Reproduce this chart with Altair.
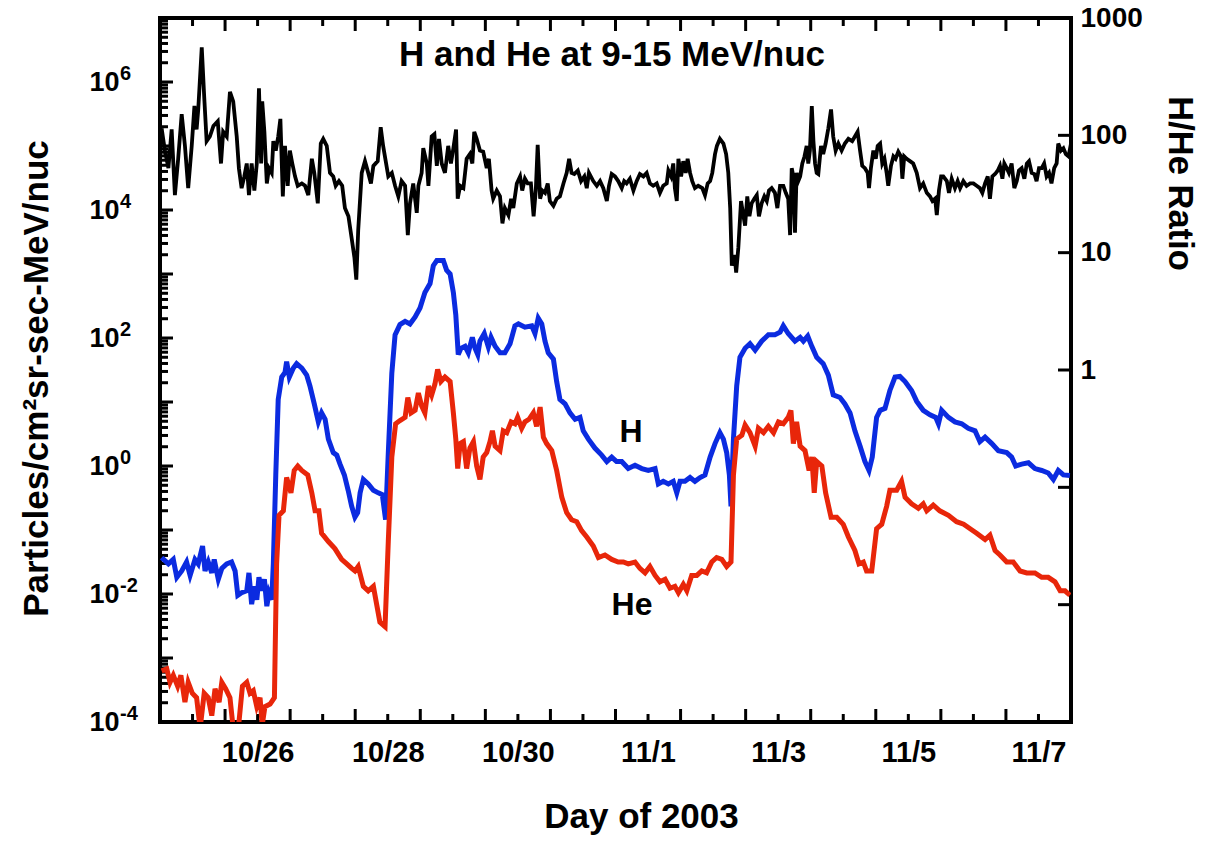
import altair as alt
import pandas as pd

# ---------------- data ----------------
# time in hours since 2003-10-25 00:00 (day of year 298), values as log10
H_HOURS = [0.6, 3.1, 4.9, 6.2, 8.0, 9.8, 11.1, 12.9, 14.1, 15.7,
           16.6, 17.8, 19.1, 20.0, 21.5, 22.8, 24.6, 26.4, 27.7, 28.7,
           30.1, 32.0, 32.8, 33.8, 34.8, 35.7, 36.5, 37.5, 38.5, 39.4,
           40.2, 41.2, 41.8, 42.7, 43.6, 44.9, 46.1, 46.7, 47.7, 49.2,
           50.4, 52.3, 54.1, 55.3, 56.9, 58.4, 59.6, 60.9, 62.1, 63.9,
           65.2, 66.4, 68.0, 69.4, 70.7, 71.9, 72.9, 73.8, 75.0, 76.8,
           78.7, 80.5, 82.0, 83.2, 84.2, 85.5, 86.7, 88.5, 90.4, 92.2,
           94.1, 95.9, 97.7, 99.6, 100.8, 102.1, 104.5, 105.7, 107.0, 108.2,
           109.1, 110.0, 111.0, 112.5, 113.7, 115.2, 116.2, 117.2, 118.0, 119.6,
           121.1, 122.1, 123.6, 125.4, 127.2, 129.1, 130.9, 132.2, 134.6, 137.1,
           138.3, 139.5, 140.8, 142.0, 143.2, 145.1, 146.3, 147.5, 149.4, 151.2,
           153.1, 154.9, 156.1, 158.0, 160.4, 162.9, 164.8, 166.6, 168.4, 170.3,
           172.7, 175.2, 177.7, 180.1, 182.6, 183.8, 185.6, 187.5, 189.3, 190.6,
           191.8, 193.6, 195.5, 197.3, 199.2, 201.0, 202.9, 204.7, 206.5, 207.8,
           209.0, 210.0, 210.6, 211.5, 212.7, 213.9, 215.8, 217.6, 219.5, 221.9,
           224.4, 226.8, 228.7, 229.9, 231.7, 234.2, 236.1, 237.3, 238.9, 240.4,
           242.2, 244.6, 246.5, 248.3, 250.8, 252.6, 254.5, 256.3, 258.2, 260.0,
           261.5, 262.7, 264.3, 265.6, 267.4, 269.2, 271.1, 272.9, 274.8, 277.2,
           279.1, 281.5, 284.0, 286.1, 287.1, 288.3, 290.8, 293.2, 295.7, 298.1,
           300.6, 302.4, 304.3, 306.8, 309.2, 312.3, 314.1, 315.6, 317.8, 320.3,
           322.7, 325.2, 327.6, 329.5, 331.3, 333.2, 335.6]
H_LOG10 = [-1.43, -1.53, -1.46, -1.74, -1.64, -1.50, -1.71, -1.46, -1.53, -1.25,
           -1.64, -1.50, -1.67, -1.46, -1.77, -1.60, -1.53, -1.50, -1.64, -2.02,
           -1.98, -1.95, -1.67, -2.16, -1.88, -2.09, -1.74, -1.95, -1.77, -2.19,
           -1.98, -2.09, -1.53, -0.14, 1.04, 1.39, 1.46, 1.63, 1.39, 1.53,
           1.60, 1.53, 1.42, 1.25, 0.97, 0.69, 0.83, 0.73, 0.42, 0.21,
           0.17, 0.03, -0.14, -0.38, -0.63, -0.80, -0.73, -0.42, -0.21, -0.28,
           -0.38, -0.42, -0.45, -0.84, 0.20, 1.45, 2.05, 2.21, 2.26, 2.22,
           2.33, 2.47, 2.71, 2.85, 3.13, 3.21, 3.21, 3.06, 3.00, 2.71,
           2.36, 1.74, 1.84, 1.87, 1.77, 2.01, 1.84, 1.74, 1.95, 2.07,
           1.86, 2.01, 1.87, 1.77, 1.77, 1.91, 2.19, 2.22, 2.17, 2.19,
           2.07, 2.31, 2.22, 1.95, 1.77, 1.67, 1.32, 1.04, 0.97, 0.83,
           0.73, 0.76, 0.55, 0.42, 0.28, 0.17, 0.07, 0.14, 0.07, 0.07,
           -0.04, 0.01, -0.04, -0.07, -0.04, -0.28, -0.24, -0.28, -0.24, -0.42,
           -0.24, -0.24, -0.18, -0.24, -0.18, -0.14, 0.14, 0.35, 0.52, 0.42,
           0.21, -0.14, -0.63, 0.42, 1.25, 1.70, 1.84, 1.91, 1.81, 1.95,
           2.05, 2.05, 2.09, 2.19, 2.07, 1.95, 2.01, 1.95, 2.03, 1.87,
           1.70, 1.60, 1.42, 1.11, 1.07, 0.97, 0.83, 0.55, 0.31, 0.07,
           -0.07, 0.14, 0.76, 0.87, 0.90, 1.18, 1.39, 1.40, 1.32, 1.18,
           1.01, 0.87, 0.80, 0.76, 0.66, 0.87, 0.76, 0.69, 0.66, 0.59,
           0.55, 0.38, 0.45, 0.35, 0.24, 0.21, 0.14, 0.00, 0.03, 0.05,
           -0.04, -0.07, -0.11, -0.21, -0.07, -0.14, -0.15]

HE_HOURS = [0.6, 2.5, 3.7, 4.9, 6.5, 7.7, 9.2, 10.4, 11.9, 13.5,
            14.8, 16.3, 17.8, 19.1, 20.3, 21.8, 22.8, 24.2, 25.8, 27.0,
            28.9, 30.4, 32.0, 33.2, 34.4, 35.7, 36.9, 37.7, 38.7, 40.6,
            42.2, 43.0, 43.9, 45.5, 46.7, 48.3, 49.5, 50.8, 52.3, 54.5,
            56.0, 57.2, 58.6, 59.6, 62.1, 64.5, 67.0, 68.9, 70.7, 71.9,
            73.1, 75.0, 76.8, 78.7, 79.9, 81.1, 83.0, 84.2, 85.5, 86.9,
            88.5, 90.4, 91.4, 92.6, 94.1, 95.3, 96.5, 97.7, 99.0, 100.2,
            101.4, 102.4, 103.6, 105.1, 107.0, 108.2, 109.1, 109.8, 110.7, 111.9,
            113.1, 114.3, 115.6, 116.8, 118.0, 119.2, 120.5, 121.7, 122.6, 123.6,
            125.4, 126.6, 127.9, 129.5, 130.9, 131.9, 133.4, 134.6, 136.1, 137.7,
            138.9, 140.2, 141.4, 142.6, 144.5, 146.3, 148.2, 150.0, 151.8, 153.7,
            155.5, 157.4, 159.8, 161.7, 164.1, 166.6, 169.0, 170.9, 172.7, 175.2,
            177.0, 178.9, 180.7, 182.6, 184.4, 186.3, 188.1, 189.9, 191.2, 193.0,
            194.3, 196.1, 198.0, 199.8, 201.6, 203.5, 205.3, 207.2, 209.0, 210.6,
            211.5, 212.7, 214.6, 215.8, 217.6, 219.5, 220.7, 222.6, 224.4, 226.3,
            228.1, 229.9, 231.7, 232.7, 233.6, 234.8, 236.1, 237.9, 239.4, 240.4,
            241.3, 242.2, 244.1, 245.5, 247.5, 249.6, 252.0, 253.9, 256.3, 257.8,
            259.4, 260.6, 262.5, 264.3, 266.2, 268.0, 269.2, 271.7, 273.5, 274.8,
            277.2, 279.7, 281.5, 282.8, 285.2, 287.6, 290.8, 293.8, 296.4, 298.8,
            301.2, 304.3, 306.1, 308.0, 309.8, 312.3, 314.7, 317.2, 319.7, 322.7,
            325.2, 327.6, 330.1, 332.0, 333.8, 335.6]
HE_LOG10 = [-3.20, -3.17, -3.38, -3.27, -3.44, -3.27, -3.69, -3.38, -3.55, -3.62,
            -4.10, -3.55, -3.62, -3.90, -3.48, -3.69, -3.38, -3.48, -3.62, -4.10,
            -4.10, -3.44, -3.38, -3.55, -3.51, -3.76, -3.62, -4.05, -3.76, -3.72,
            -3.62, -1.53, -0.77, -0.70, -0.18, -0.42, -0.07, 0.00, -0.07, -0.14,
            -0.42, -0.70, -0.70, -1.05, -1.18, -1.29, -1.46, -1.53, -1.60, -1.64,
            -1.57, -1.88, -1.95, -1.88, -2.16, -2.44, -2.51, -1.18, 0.14, 0.66,
            0.71, 0.76, 1.07, 0.83, 0.87, 1.14, 0.94, 0.83, 1.25, 1.11,
            1.28, 1.51, 1.32, 1.39, 1.32, 0.83, 0.42, -0.04, 0.35, 0.38,
            -0.04, 0.28, 0.38, 0.00, -0.21, 0.14, 0.21, 0.38, 0.55, 0.31,
            0.24, 0.55, 0.52, 0.69, 0.66, 0.76, 0.59, 0.69, 0.73, 0.83,
            0.62, 0.92, 0.45, 0.35, 0.24, -0.07, -0.49, -0.73, -0.84, -0.87,
            -1.01, -1.11, -1.25, -1.43, -1.39, -1.46, -1.50, -1.50, -1.53, -1.50,
            -1.60, -1.67, -1.57, -1.71, -1.81, -1.77, -1.91, -1.88, -1.98, -1.85,
            -1.95, -1.71, -1.71, -1.64, -1.67, -1.50, -1.43, -1.46, -1.57, -1.50,
            -0.14, 0.42, 0.48, 0.64, 0.52, 0.31, 0.59, 0.52, 0.62, 0.52,
            0.69, 0.66, 0.76, 0.87, 0.35, 0.69, 0.31, 0.24, -0.07, 0.14,
            -0.42, 0.07, 0.00, -0.42, -0.80, -0.80, -0.91, -1.11, -1.32, -1.53,
            -1.50, -1.64, -1.64, -0.98, -0.91, -0.63, -0.38, -0.38, -0.24, -0.49,
            -0.59, -0.66, -0.59, -0.70, -0.61, -0.70, -0.77, -0.87, -0.91, -0.98,
            -1.05, -1.15, -1.08, -1.32, -1.39, -1.50, -1.50, -1.64, -1.67, -1.67,
            -1.74, -1.74, -1.81, -1.95, -1.95, -2.02]

R_HOURS = [0.6, 1.8, 3.1, 4.3, 5.5, 6.7, 8.0, 9.2, 10.4, 11.7,
           12.7, 13.5, 14.1, 15.4, 16.3, 17.2, 18.4, 19.7, 21.3, 22.5,
           23.3, 24.6, 25.8, 27.0, 28.3, 29.1, 30.1, 31.1, 32.0, 32.8,
           33.8, 34.8, 35.7, 36.5, 37.3, 37.7, 38.5, 39.4, 40.2, 41.2,
           41.8, 42.7, 43.6, 44.4, 45.3, 46.1, 47.1, 47.9, 48.8, 49.8,
           50.8, 52.3, 53.5, 54.7, 56.0, 56.9, 58.2, 59.3, 60.2, 61.5,
           62.7, 63.9, 64.8, 66.0, 67.2, 68.2, 69.5, 70.7, 71.7, 72.4,
           73.1, 74.4, 75.6, 76.8, 77.8, 78.7, 80.3, 81.4, 82.3, 84.2,
           85.5, 86.7, 87.9, 89.1, 90.4, 91.4, 92.2, 93.4, 94.7, 95.3,
           96.5, 97.1, 98.4, 99.0, 100.2, 101.2, 102.1, 102.9, 103.9, 105.1,
           106.3, 107.3, 108.2, 109.2, 109.8, 110.7, 111.9, 113.1, 114.3, 115.2,
           115.9, 116.8, 118.0, 119.2, 120.5, 121.3, 122.3, 122.9, 124.2, 125.4,
           126.3, 127.2, 128.5, 129.5, 130.3, 131.6, 132.8, 133.6, 134.6, 135.6,
           136.8, 137.8, 138.6, 139.3, 140.2, 141.0, 142.0, 143.0, 143.8, 145.1,
           146.3, 147.5, 148.8, 150.0, 150.9, 151.8, 152.8, 154.1, 155.3, 156.5,
           157.4, 158.2, 159.8, 161.1, 162.3, 163.5, 164.8, 165.6, 166.6, 167.8,
           169.0, 170.3, 171.2, 172.1, 173.3, 174.6, 175.8, 177.0, 178.3, 179.5,
           180.7, 181.9, 183.2, 184.4, 185.6, 186.9, 187.5, 188.5, 189.3, 189.9,
           190.6, 191.2, 192.2, 193.0, 193.9, 194.6, 195.5, 196.3, 197.3, 198.5,
           200.0, 201.0, 202.0, 202.9, 203.7, 204.7, 205.4, 206.5, 207.8, 208.8,
           209.6, 210.3, 210.9, 211.9, 212.5, 213.3, 214.3, 215.2, 215.8, 216.6,
           217.4, 218.2, 219.2, 220.1, 220.9, 221.9, 222.9, 223.8, 224.6, 225.6,
           226.8, 227.7, 228.7, 229.9, 230.8, 231.7, 232.4, 233.0, 233.6, 234.2,
           234.8, 235.4, 236.1, 236.9, 237.7, 238.5, 239.1, 239.7, 240.4, 241.0,
           241.6, 242.2, 242.8, 243.8, 244.6, 245.5, 246.5, 247.5, 248.3, 249.2,
           250.2, 251.4, 252.6, 253.9, 255.3, 256.3, 257.3, 258.2, 259.0, 260.0,
           261.0, 261.5, 262.2, 263.1, 264.0, 264.7, 265.6, 266.4, 267.2, 268.0,
           268.6, 269.6, 270.5, 271.3, 272.3, 273.3, 273.8, 274.5, 275.4, 276.6,
           277.8, 279.1, 280.3, 281.5, 282.8, 284.0, 284.9, 285.9, 286.5, 287.3,
           288.1, 288.9, 290.2, 291.0, 292.0, 293.2, 294.2, 295.1, 296.3, 297.5,
           298.8, 300.0, 301.2, 302.4, 303.3, 304.3, 305.3, 306.1, 307.0, 308.0,
           309.0, 309.8, 310.7, 311.4, 312.3, 313.1, 314.1, 315.1, 316.0, 316.8,
           317.8, 318.8, 319.7, 320.5, 321.5, 322.5, 323.3, 324.2, 325.2, 326.1,
           327.0, 327.9, 328.8, 329.8, 330.7, 331.3, 332.3, 333.2, 334.1, 335.1,
           336.0]
R_LOG10 = [2.06, 1.87, 1.72, 2.05, 1.49, 1.80, 2.18, 1.91, 1.55, 1.91,
           2.25, 2.05, 2.22, 2.75, 2.33, 1.95, 1.99, 2.08, 2.12, 1.76,
           2.03, 1.99, 2.37, 2.29, 1.99, 1.72, 1.55, 1.65, 1.76, 1.49,
           1.76, 1.53, 1.76, 2.40, 1.76, 2.29, 2.03, 1.59, 1.72, 1.68,
           1.95, 1.87, 1.99, 2.14, 1.48, 1.91, 1.57, 1.87, 1.76, 1.65,
           1.57, 1.59, 1.57, 1.49, 1.80, 1.68, 1.42, 1.93, 1.97, 1.91,
           1.68, 1.65, 1.57, 1.61, 1.57, 1.38, 1.31, 1.12, 0.96, 0.77,
           1.19, 1.68, 1.78, 1.68, 1.59, 1.74, 1.78, 2.07, 1.91, 1.65,
           1.68, 1.57, 1.48, 1.61, 1.57, 1.15, 1.42, 1.59, 1.34, 1.57,
           1.68, 1.89, 1.76, 1.57, 1.99, 2.01, 1.74, 1.97, 1.76, 1.68,
           1.91, 1.76, 1.89, 2.05, 1.46, 1.57, 1.55, 1.80, 1.84, 1.76,
           2.03, 1.97, 1.87, 1.86, 1.72, 1.80, 1.53, 1.46, 1.53, 1.48,
           1.25, 1.38, 1.32, 1.46, 1.38, 1.59, 1.65, 1.53, 1.63, 1.59,
           1.59, 1.31, 1.53, 1.92, 1.46, 1.53, 1.51, 1.59, 1.44, 1.40,
           1.46, 1.48, 1.59, 1.68, 1.80, 1.68, 1.67, 1.70, 1.61, 1.65,
           1.55, 1.68, 1.61, 1.57, 1.61, 1.55, 1.44, 1.57, 1.67, 1.65,
           1.61, 1.55, 1.61, 1.59, 1.63, 1.53, 1.61, 1.67, 1.65, 1.68,
           1.59, 1.57, 1.59, 1.51, 1.57, 1.59, 1.70, 1.65, 1.76, 1.55,
           1.44, 1.80, 1.65, 1.78, 1.68, 1.80, 1.68, 1.61, 1.55, 1.57,
           1.55, 1.49, 1.59, 1.61, 1.68, 1.84, 1.91, 1.97, 1.93, 1.84,
           1.68, 1.38, 0.89, 0.98, 0.83, 1.04, 1.44, 1.31, 1.23, 1.48,
           1.31, 1.42, 1.46, 1.49, 1.31, 1.42, 1.48, 1.44, 1.53, 1.55,
           1.51, 1.38, 1.57, 1.57, 1.51, 1.46, 1.15, 1.72, 1.65, 1.17,
           1.68, 1.61, 1.65, 1.76, 1.82, 1.91, 1.76, 1.87, 2.25, 1.95,
           1.76, 1.68, 1.67, 1.91, 1.84, 1.93, 2.06, 2.22, 1.99, 1.87,
           1.93, 1.87, 1.93, 1.97, 1.95, 1.99, 2.03, 1.87, 1.74, 1.72,
           1.68, 1.55, 1.72, 1.87, 1.80, 1.91, 1.93, 1.76, 1.80, 1.68,
           1.57, 1.74, 1.82, 1.80, 1.86, 1.82, 1.63, 1.82, 1.80, 1.78,
           1.76, 1.68, 1.55, 1.59, 1.51, 1.48, 1.44, 1.46, 1.32, 1.53,
           1.65, 1.65, 1.61, 1.51, 1.63, 1.55, 1.61, 1.55, 1.61, 1.57,
           1.59, 1.59, 1.57, 1.55, 1.51, 1.59, 1.65, 1.46, 1.65, 1.67,
           1.70, 1.74, 1.63, 1.76, 1.72, 1.68, 1.76, 1.55, 1.61, 1.70,
           1.72, 1.63, 1.76, 1.78, 1.68, 1.67, 1.61, 1.72, 1.72, 1.76,
           1.65, 1.68, 1.59, 1.72, 1.76, 1.93, 1.87, 1.89, 1.84, 1.82,
           1.93]

DAY0 = 298                      # day of year of 10/25 00:00
X_DOMAIN = [298, 312]
X_LABEL_DAYS = [299.5, 301.5, 303.5, 305.5, 307.5, 309.5, 311.5]
DAY_TICKS = list(range(299, 312))
HALF_TICKS = [d + 0.5 for d in range(298, 312)]
LEFT_LABELS = [1e-4, 1e-2, 1e0, 1e2, 1e4, 1e6]
LEFT_EXPONENTS = ["-4", "-2", "0", "2", "4", "6"]
LEFT_MAJOR = [10.0 ** e for e in range(-3, 7)]
LEFT_MINOR = [m * 10.0 ** e for e in range(-4, 7) for m in range(2, 10)]
RIGHT_LABELS = [1, 10, 100, 1000]
RIGHT_MAJOR = [10.0 ** e for e in range(-2, 3)]

BLUE = "#0b2be0"
RED = "#e8260a"
FONT = "Liberation Sans"
W, H = 911, 704
MAJOR, MINOR = 13, 8

flux = pd.DataFrame({
    "doy": [DAY0 + h / 24 for h in H_HOURS] + [DAY0 + h / 24 for h in HE_HOURS],
    "flux": [10 ** v for v in H_LOG10] + [10 ** v for v in HE_LOG10],
    "species": ["H"] * len(H_HOURS) + ["He"] * len(HE_HOURS),
})
ratio = pd.DataFrame({
    "doy": [DAY0 + h / 24 for h in R_HOURS],
    "ratio": [10 ** v for v in R_LOG10],
})

xs = alt.Scale(domain=X_DOMAIN, nice=False, zero=False)
yl = alt.Scale(type="log", domain=[1e-4, 1e7], nice=False)
yr = alt.Scale(type="log", domain=[1e-3, 1e3], nice=False)

x_expr = ("floor(datum.value) <= 304 ? '10/' + (floor(datum.value) - 273) : "
          "'11/' + (floor(datum.value) - 304)")

lines = alt.Chart(flux).mark_line(strokeWidth=5, clip=True).encode(
    x=alt.X("doy:Q", scale=xs, axis=alt.Axis(
        orient="bottom", values=X_LABEL_DAYS, labelExpr=x_expr, ticks=False, tickSize=0,
        domain=False, grid=False, labelPadding=16, labelFontSize=29, labelFlush=False,
        labelOverlap=False,
        title="Day of 2003", titleX=481, titleY=105, titleBaseline="alphabetic",
        titleAlign="center")),
    y=alt.Y("flux:Q", scale=yl, axis=alt.Axis(
        orient="left", values=LEFT_LABELS, labelExpr="'10'", ticks=False, tickSize=0,
        domain=False, grid=False, labelPadding=41, labelFontSize=27, labelFlush=False,
        labelOverlap=False,
        title="Particles/cm\u00b2sr-sec-MeV/nuc", titleX=-113, titleY=360,
        titleBaseline="alphabetic", titleAlign="center")),
    color=alt.Color("species:N", scale=alt.Scale(domain=["H", "He"], range=[BLUE, RED]),
                    legend=None),
)

ratio_line = alt.Chart(ratio).mark_line(color="black", strokeWidth=3.8, clip=True).encode(
    x=alt.X("doy:Q", scale=xs, axis=None),
    y=alt.Y("ratio:Q", scale=yr, axis=alt.Axis(
        orient="right", values=RIGHT_LABELS, format="d", ticks=False, tickSize=0,
        domain=False, grid=False, labelPadding=9, labelAlign="left", labelFlush=False,
        labelOverlap=False, title="H/He Ratio", titleX=97, titleY=165,
        titleFontSize=34.5, titleBaseline="alphabetic", titleAlign="center")),
)

# exponents of the left-axis labels
exps = alt.Chart(pd.DataFrame({"v": LEFT_LABELS, "e": LEFT_EXPONENTS})).mark_text(
    font=FONT, fontSize=20, fontWeight="bold", color="black", align="left",
    baseline="middle", dy=-8).encode(
    y=alt.Y("v:Q", scale=yl, axis=None), x=alt.value(-40), text="e:N")


def x_ticks(values, size, top):
    y0 = 0 if top else H
    y1 = size if top else H - size
    return alt.Chart(pd.DataFrame({"t": values})).mark_rule(
        color="black", strokeWidth=3).encode(
        x=alt.X("t:Q", scale=xs, axis=None), y=alt.value(y0), y2=alt.value(y1))


def y_ticks(values, scale, size, right):
    x0 = W if right else 0
    x1 = W - size if right else size
    return alt.Chart(pd.DataFrame({"v": values})).mark_rule(
        color="black", strokeWidth=3).encode(
        y=alt.Y("v:Q", scale=scale, axis=None), x=alt.value(x0), x2=alt.value(x1))


tick_layers = [
    x_ticks(DAY_TICKS, MAJOR, False),
    x_ticks(HALF_TICKS, MINOR, False),
    x_ticks(DAY_TICKS, MAJOR, True),
    x_ticks(HALF_TICKS, MINOR, True),
    y_ticks(LEFT_MAJOR, yl, MAJOR, False),
    y_ticks(LEFT_MINOR, yl, MINOR, False),
    y_ticks(RIGHT_MAJOR, yr, MAJOR, True),
]

title_txt = alt.Chart(pd.DataFrame({"label": ["H and He at 9-15 MeV/nuc"]})).mark_text(
    font=FONT, fontSize=35, fontWeight="bold", color="black", align="center",
    baseline="alphabetic").encode(text="label:N", x=alt.value(452), y=alt.value(48))
h_txt = alt.Chart(pd.DataFrame({"label": ["H"]})).mark_text(
    font=FONT, fontSize=32, fontWeight="bold", color="black", align="center",
    baseline="alphabetic").encode(text="label:N", x=alt.value(471), y=alt.value(424))
he_txt = alt.Chart(pd.DataFrame({"label": ["He"]})).mark_text(
    font=FONT, fontSize=32, fontWeight="bold", color="black", align="center",
    baseline="alphabetic").encode(text="label:N", x=alt.value(472), y=alt.value(597))

chart = alt.layer(
    *tick_layers, lines, ratio_line, exps, title_txt, h_txt, he_txt
).resolve_scale(y="independent").resolve_axis(x="independent", y="independent").properties(
    width=W, height=H,
    padding={"left": 160, "top": 18, "right": 136, "bottom": 124},
    autosize=alt.AutoSizeParams(type="none"),
    background="white",
).configure_view(
    stroke="black", strokeWidth=4
).configure_axis(
    labelFont=FONT, labelFontWeight="bold", labelFontSize=28, labelColor="black",
    titleFont=FONT, titleFontWeight="bold", titleFontSize=35, titleColor="black",
    grid=False, domain=False,
)

chart.save("out.html", embed_options={"renderer": "svg", "actions": False})
